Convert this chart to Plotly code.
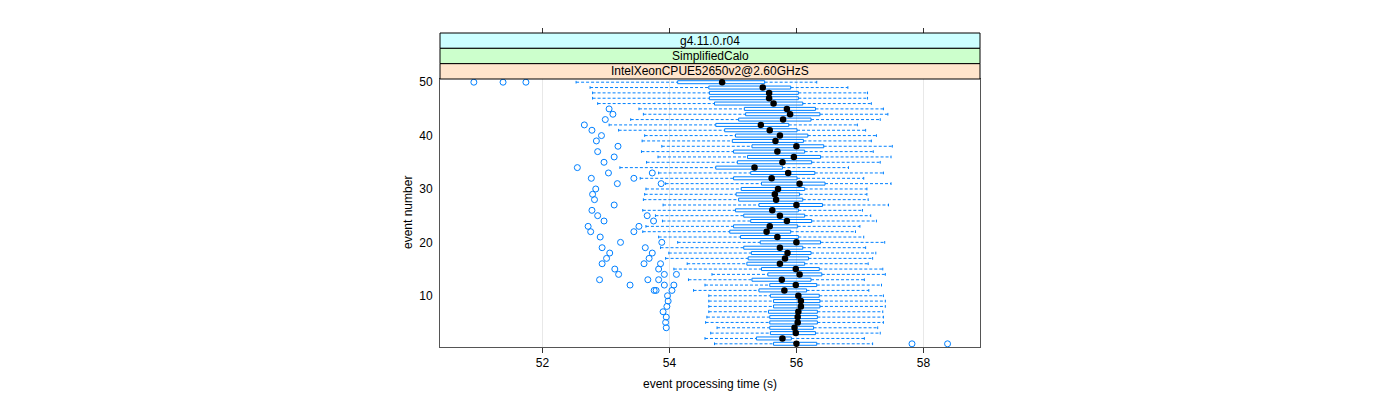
import plotly.graph_objects as go

# ---- data ----
events = list(range(1, 51))
whisker_lo = [54.71, 54.56, 54.65, 54.75, 54.57, 54.59, 54.62, 54.62, 54.62, 54.62,
              54.38, 54.56, 54.30, 54.67, 54.07, 54.28, 53.94, 53.99, 53.86, 54.13,
              53.83, 53.58, 53.63, 53.89, 53.78, 53.58, 53.90, 53.59, 53.61, 53.63,
              53.94, 53.54, 53.83, 53.22, 53.64, 53.82, 53.56, 53.88, 53.57, 53.61,
              53.20, 53.05, 53.39, 53.59, 53.52, 52.87, 52.79, 52.79, 52.75, 52.53]
q1 = [55.64, 55.37, 55.59, 55.58, 55.58, 55.58, 55.56, 55.64, 55.64, 55.59,
      55.41, 55.58, 55.30, 55.55, 55.45, 55.22, 55.24, 55.29, 55.17, 55.43,
      55.12, 54.95, 55.01, 55.28, 55.17, 55.04, 55.41, 55.09, 55.05, 55.13,
      55.45, 55.01, 55.28, 54.73, 55.07, 55.23, 55.01, 55.30, 54.99, 55.04,
      54.87, 54.73, 55.09, 55.20, 55.18, 54.71, 54.63, 54.63, 54.62, 54.13]
median = [56.00, 55.78, 55.99, 55.97, 56.02, 56.02, 56.03, 56.07, 56.07, 56.03,
          55.81, 55.99, 55.77, 56.05, 55.99, 55.74, 55.82, 55.86, 55.74, 56.00,
          55.70, 55.53, 55.58, 55.85, 55.74, 55.62, 56.00, 55.68, 55.66, 55.71,
          56.05, 55.61, 55.87, 55.34, 55.78, 55.96, 55.70, 56.00, 55.67, 55.74,
          55.58, 55.44, 55.79, 55.90, 55.85, 55.64, 55.57, 55.57, 55.47, 54.83]
q3 = [56.32, 55.92, 56.30, 56.27, 56.33, 56.33, 56.33, 56.37, 56.37, 56.36,
      56.16, 56.32, 56.23, 56.40, 56.36, 56.13, 56.19, 56.23, 56.10, 56.38,
      56.03, 55.91, 56.02, 56.24, 56.13, 56.03, 56.41, 56.10, 56.05, 56.13,
      56.45, 56.01, 56.29, 55.78, 56.24, 56.38, 56.13, 56.43, 56.11, 56.18,
      56.01, 55.88, 56.23, 56.37, 56.30, 56.10, 56.03, 56.03, 55.91, 55.50]
whisker_hi = [57.20, 57.07, 57.32, 57.28, 57.37, 57.37, 57.36, 57.40, 57.40, 57.37,
              57.14, 57.34, 57.07, 57.40, 57.36, 57.13, 57.20, 57.25, 57.09, 57.39,
              57.06, 56.93, 57.00, 57.26, 57.17, 57.04, 57.45, 57.13, 57.11, 57.11,
              57.49, 57.06, 57.37, 56.82, 57.32, 57.49, 57.21, 57.51, 57.18, 57.26,
              57.09, 56.96, 57.32, 57.44, 57.37, 57.18, 57.12, 57.12, 56.81, 56.32]
outliers = [[57.82, 58.38], [], [], [53.95], [53.94], [53.95], [53.90], [53.96], [53.98], [53.97],
            [53.76, 53.79, 54.04], [53.38, 53.92, 54.07], [52.90, 53.66, 53.83],
            [53.20, 53.92, 54.11], [53.14, 53.83], [52.94, 53.60, 53.86], [53.01, 53.68],
            [53.06, 53.73], [52.94, 53.62], [53.23, 53.88],
            [52.91], [52.76, 53.44], [52.72, 53.52], [52.97, 53.75], [52.87, 53.65],
            [52.78], [53.13], [52.82], [52.79], [52.84],
            [53.18, 53.87], [52.77, 53.44], [53.04, 53.73], [52.55], [52.97],
            [53.13], [52.87], [53.19], [52.85], [52.93],
            [52.78], [52.66], [52.99], [53.11], [53.05], [], [], [], [], [50.92, 51.38, 51.74]]

x_ticks = [52, 54, 56, 58]
y_ticks = [10, 20, 30, 40, 50]
strip_labels = ["g4.11.0.r04", "SimplifiedCalo", "IntelXeonCPUE52650v2@2.60GHzS"]
strip_colors = ["#CCFFFF", "#CCFFCC", "#FFE5CC"]
x_title = "event processing time (s)"
y_title = "event number"

# ---- style ----
BLUE = "#0080FF"
FONT = "Liberation Sans, Arial, Helvetica, sans-serif"
BOX_H = 0.28
CAP_H = 0.25
PANEL_TOP = 268 / 314  # fraction of plot area used by the panel

# ---- build geometry from data ----
wx, wy = [], []
cx, cy = [], []
bx, by = [], []
for e, lo, a, b, hi in zip(events, whisker_lo, q1, q3, whisker_hi):
    wx += [lo, a, None, b, hi, None]
    wy += [e, e, None, e, e, None]
    cx += [lo, lo, None, hi, hi, None]
    cy += [e - CAP_H, e + CAP_H, None, e - CAP_H, e + CAP_H, None]
    bx += [a, b, b, a, a, None]
    by += [e - BOX_H, e - BOX_H, e + BOX_H, e + BOX_H, e - BOX_H, None]

ox, oy = [], []
for e, outs in zip(events, outliers):
    for v in outs:
        ox.append(v)
        oy.append(e)

fig = go.Figure()
fig.add_trace(go.Scatter(x=wx, y=wy, mode="lines",
                         line=dict(color=BLUE, width=1, dash="3px,2px"),
                         hoverinfo="skip", showlegend=False))
fig.add_trace(go.Scatter(x=cx, y=cy, mode="lines",
                         line=dict(color=BLUE, width=1),
                         hoverinfo="skip", showlegend=False))
fig.add_trace(go.Scatter(x=bx, y=by, mode="lines",
                         line=dict(color=BLUE, width=1),
                         hoverinfo="skip", showlegend=False))
fig.add_trace(go.Scatter(x=ox, y=oy, mode="markers",
                         marker=dict(symbol="circle-open", size=6, color=BLUE,
                                     line=dict(width=1, color=BLUE)),
                         showlegend=False))
fig.add_trace(go.Scatter(x=median, y=events, mode="markers",
                         marker=dict(symbol="circle", size=6.5, color="black"),
                         showlegend=False))
# invisible trace to carry the top tick axis
fig.add_trace(go.Scatter(x=[None], y=[None], xaxis="x2", yaxis="y",
                         showlegend=False, hoverinfo="skip"))

XR = [50.387, 58.891]
YR = [0.4, 50.6]

# the page body adds an 8px offset, so margins are reduced by 8px on left/top
fig.update_layout(
    width=1400, height=400,
    margin=dict(l=432, r=428, t=25, b=61),
    paper_bgcolor="white", plot_bgcolor="white",
    font=dict(family=FONT, size=12, color="black"),
    xaxis=dict(range=XR, tickvals=x_ticks, ticks="outside", ticklen=5,
               tickcolor="#333333", showline=True, linecolor="#555555",
               linewidth=1, mirror=True, showgrid=True, gridcolor="#E8E8E8",
               gridwidth=1, zeroline=False, tickfont=dict(size=12)),
    xaxis2=dict(range=XR, tickvals=x_ticks, overlaying="x", side="top",
                anchor="free", position=1, ticks="outside", ticklen=5,
                tickcolor="#333333", showticklabels=False, showline=False,
                showgrid=False, zeroline=False),
    yaxis=dict(range=YR, domain=[0, PANEL_TOP], tickvals=y_ticks,
               ticks="outside", ticklen=4, tickcolor="rgba(0,0,0,0)",
               showline=True, linecolor="#555555", linewidth=1, mirror=True,
               showgrid=False, zeroline=False, tickfont=dict(size=12)),
)

# strips
n = len(strip_labels)
sh = (1 - PANEL_TOP) / n
shapes = []
annots = []
for i, (lab, col) in enumerate(zip(strip_labels, strip_colors)):
    y1 = 1 - i * sh
    y0 = y1 - sh
    shapes.append(dict(type="rect", xref="paper", yref="paper", x0=0, x1=1,
                       y0=y0, y1=y1, fillcolor=col,
                       line=dict(color="black", width=1), layer="above"))
    annots.append(dict(text=lab, xref="paper", yref="paper", x=0.5,
                       y=(y0 + y1) / 2, showarrow=False,
                       font=dict(size=12, family=FONT, color="black"),
                       xanchor="center", yanchor="middle"))

annots.append(dict(text=x_title, xref="paper", yref="paper", x=0.5, y=0,
                   yshift=-37, showarrow=False, xanchor="center",
                   yanchor="middle", font=dict(size=12, family=FONT)))
annots.append(dict(text=y_title, xref="paper", yref="paper", x=0,
                   y=PANEL_TOP / 2, xshift=-32, showarrow=False,
                   textangle=-90, xanchor="center", yanchor="middle",
                   font=dict(size=12, family=FONT)))

fig.update_layout(shapes=shapes, annotations=annots)

fig.write_html("out.html")
